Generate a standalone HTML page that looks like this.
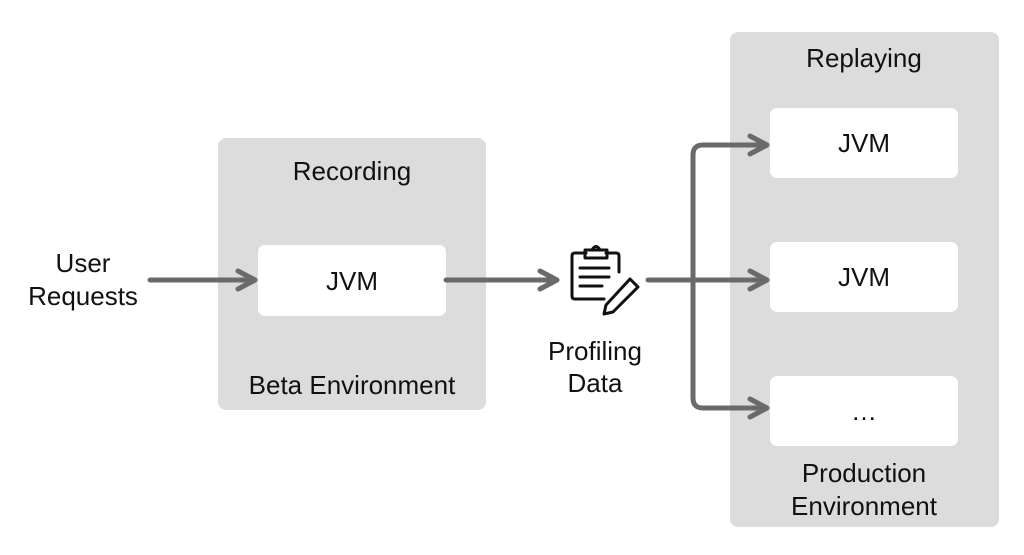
<!DOCTYPE html>
<html><head><style>
body{margin:0;width:1024px;height:550px;background:#fff;overflow:hidden}
svg text{font-family:"Liberation Sans",sans-serif;fill:#111;font-size:26px;text-anchor:middle}
</style></head><body>
<svg width="1024" height="550" viewBox="0 0 1024 550">
<rect x="218" y="138" width="268" height="272" rx="8" fill="#dcdcdc"/>
<rect x="730" y="32" width="269" height="495" rx="8" fill="#dcdcdc"/>
<rect x="258" y="245" width="188" height="71" rx="7" fill="#fff"/>
<rect x="770" y="108" width="188" height="70" rx="7" fill="#fff"/>
<rect x="770" y="242" width="188" height="70" rx="7" fill="#fff"/>
<rect x="770" y="376" width="188" height="70" rx="7" fill="#fff"/>
<text x="352" y="180">Recording</text>
<text x="352" y="290">JVM</text>
<text x="352" y="394">Beta Environment</text>
<text x="864" y="67">Replaying</text>
<text x="864" y="152">JVM</text>
<text x="864" y="286">JVM</text>
<text x="864" y="420">…</text>
<text x="864" y="482">Production</text>
<text x="864" y="515">Environment</text>
<text x="83" y="272">User</text>
<text x="83" y="305">Requests</text>
<text x="595" y="360">Profiling</text>
<text x="595" y="392">Data</text>
<g stroke="#6a6a6a" stroke-width="5" fill="none" stroke-linecap="round">
<line x1="150" y1="280" x2="254" y2="280"/>
<polyline points="238,271 255,280 238,289" stroke-linejoin="round"/>
<line x1="446" y1="280" x2="555" y2="280"/>
<polyline points="540,271 557,280 540,289" stroke-linejoin="round"/>
<line x1="648" y1="280" x2="764" y2="280"/>
<polyline points="750,271 767,280 750,289" stroke-linejoin="round"/>
<path d="M764 145 H703 Q693 145 693 155 V398 Q693 408 703 408 H764"/>
<polyline points="750,136 767,145 750,154" stroke-linejoin="round"/>
<polyline points="750,399 767,408 750,417" stroke-linejoin="round"/>
</g>
<g stroke="#111" stroke-width="3" fill="none" stroke-linejoin="round" stroke-linecap="round">
<path d="M586 253 H575 Q572 253 572 256 V296 Q572 299 575 299 H604"/>
<path d="M606 253 H616 Q619 253 619 256 V272"/>
<path d="M585 250 H607 V258 H585 Z"/>
<path d="M592 250 Q596 243 600 250"/>
<line x1="580" y1="268" x2="609" y2="268"/>
<line x1="580" y1="277" x2="609" y2="277"/>
<line x1="580" y1="286" x2="602" y2="286"/>
<path d="M630 279 L638 287 L613 312 L604 314 L606 305 Z"/>
</g>
</svg>
</body></html>
